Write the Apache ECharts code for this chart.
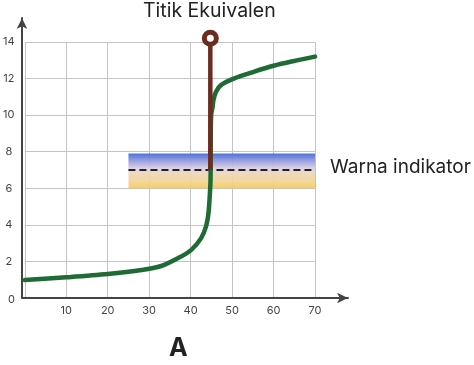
<!DOCTYPE html>
<html><head><meta charset="utf-8">
<script src="https://cdn.jsdelivr.net/npm/echarts@6/dist/echarts.min.js"></script>
<style>html,body{margin:0;padding:0;background:#fff}#c{width:474px;height:365px}</style>
</head><body><div id="c"></div>
<script>
// Titration curve (volume vs pH)
const curveX = [0, 10, 20, 28.2, 32.9, 36.9, 40.1, 42.5, 43.7, 44.3, 44.6, 44.8, 44.85, 44.95, 45.3, 45.5, 46.1, 47.3, 50.4, 55.2, 60, 64.7, 70];
const curveY = [0.98, 1.13, 1.31, 1.53, 1.75, 2.17, 2.62, 3.26, 3.9, 4.63, 5.54, 6.45, 8.5, 10.0, 10.45, 10.82, 11.27, 11.64, 12.0, 12.37, 12.7, 12.95, 13.2];
// Equivalence point marker line
const eqX = [44.75, 44.75];
const eqY = [7, 14.2];
// Indicator colour band and its midline
const bandX = [25, 70];
const bandY = [6, 7.9];
const indicatorY = 7;
const xTicks = [0, 10, 20, 30, 40, 50, 60, 70];
const yTicks = [0, 2, 4, 6, 8, 10, 12, 14];
const titleText = 'Titik Ekuivalen';
const bandLabel = 'Warna indikator';
const panelLabel = 'A';

const chart = echarts.init(document.getElementById('c'), null, {renderer: 'canvas'});
const FONT = 'Inter, "Noto Sans", sans-serif';
const option = {
  animation: false,
  grid: [
    {left: 22, right: 159, top: 42, bottom: 67},
    {left: 22, right: 126, top: 18, bottom: 67}
  ],
  xAxis: [
    {gridIndex: 0, type: 'value', min: xTicks[0], max: xTicks[xTicks.length - 1], interval: 10,
      axisLine: {show: false}, axisTick: {show: false},
      splitLine: {show: true, lineStyle: {color: '#c4c4c4', width: 1}},
      axisLabel: {color: '#444', fontSize: 11, fontFamily: FONT, margin: 7,
        formatter: v => v === 0 ? '' : String(v)}},
    {gridIndex: 1, type: 'value', min: 0, max: 1, axisLabel: {show: false}, axisTick: {show: false},
      splitLine: {show: false},
      axisLine: {show: true, symbol: ['none', 'arrow'], symbolSize: [8, 11], lineStyle: {color: '#444', width: 2}}}
  ],
  yAxis: [
    {gridIndex: 0, type: 'value', min: yTicks[0], max: yTicks[yTicks.length - 1], interval: 2,
      axisLine: {show: false}, axisTick: {show: false},
      splitLine: {show: true, lineStyle: {color: '#c4c4c4', width: 1}},
      axisLabel: {color: '#444', fontSize: 11, fontFamily: FONT, margin: 16, align: 'center',
        formatter: v => v === 0 ? '' : String(v)}},
    {gridIndex: 1, type: 'value', min: 0, max: 1, axisLabel: {show: false}, axisTick: {show: false},
      splitLine: {show: false},
      axisLine: {show: true, symbol: ['none', 'arrow'], symbolSize: [8, 11], lineStyle: {color: '#444', width: 2}}}
  ],
  series: [
    {
      type: 'line', xAxisIndex: 0, yAxisIndex: 0, z: 1,
      data: [], silent: true,
      markArea: {
        silent: true,
        itemStyle: {
          opacity: 0.92,
          color: new echarts.graphic.LinearGradient(0, 0, 0, 1, [
            {offset: 0, color: '#3f66d6'},
            {offset: 0.2, color: '#8d96de'},
            {offset: 0.42, color: '#d9cde4'},
            {offset: 0.55, color: '#ecd6c0'},
            {offset: 0.8, color: '#f2d592'},
            {offset: 1, color: '#f5c95a'}
          ])
        },
        data: [[{coord: [bandX[0], bandY[1]]}, {coord: [bandX[1], bandY[0]]}]]
      }
    },
    {
      type: 'line', xAxisIndex: 0, yAxisIndex: 0, z: 2,
      data: bandX.map(x => [x, indicatorY]),
      symbol: 'none',
      lineStyle: {color: '#222', width: 2.2, type: [7, 4]}
    },
    {
      type: 'line', xAxisIndex: 0, yAxisIndex: 0, z: 3,
      data: curveX.map((x, i) => [x, curveY[i]]),
      symbol: 'none', smooth: 0.3,
      lineStyle: {color: '#1e6b35', width: 4.5, cap: 'round', join: 'round'}
    },
    {
      type: 'line', xAxisIndex: 0, yAxisIndex: 0, z: 4, clip: false,
      data: eqX.map((x, i) => i === 0 ? {value: [x, eqY[i]], symbol: 'none'} : {value: [x, eqY[i]]}),
      symbol: 'circle', symbolSize: 12, showSymbol: true,
      itemStyle: {color: '#ffffff', borderColor: '#6e2b20', borderWidth: 5},
      lineStyle: {color: '#6e2b20', width: 4.5}
    }
  ],
  graphic: [
    {type: 'text', left: 143, top: 1, z: 10,
      style: {text: titleText, fontSize: 19.5, fontFamily: FONT, fill: '#222'}},
    {type: 'text', left: 330, top: 158, z: 10,
      style: {text: bandLabel, fontSize: 19, fontFamily: FONT, fill: '#222'}},
    {type: 'text', left: 8, top: 294, z: 10,
      style: {text: '0', fontSize: 11, fontFamily: FONT, fill: '#444'}},
    {type: 'text', left: 169, top: 336, z: 10,
      style: {text: panelLabel, fontSize: 25, fontWeight: 'bold', fontFamily: FONT, fill: '#222'}}
  ]
};
chart.setOption(option);
</script>
</body></html>
